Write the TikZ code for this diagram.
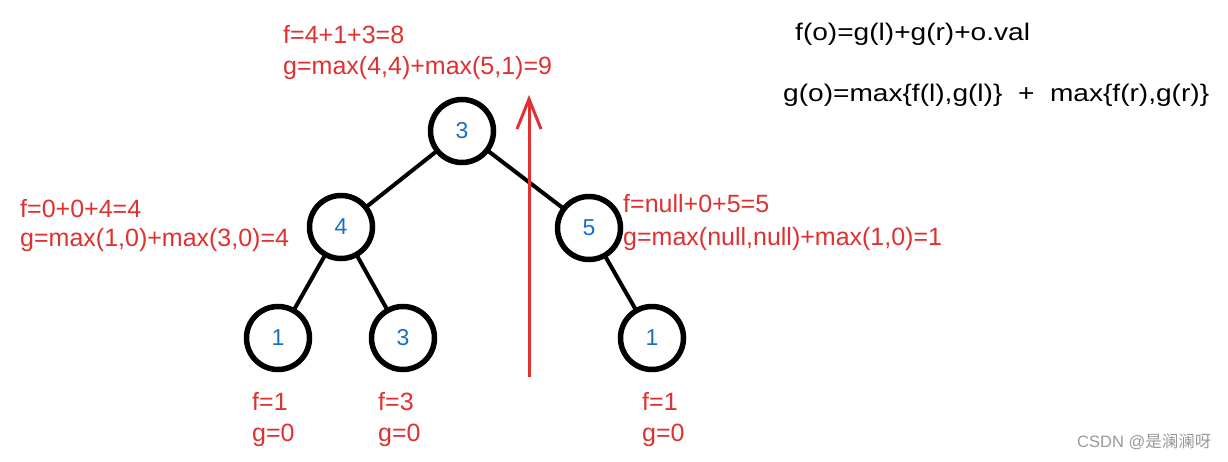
\documentclass[tikz,border=0pt]{standalone}
\usepackage{fontspec}
\setmainfont{Liberation Sans}
\newfontfamily\widefont[FakeStretch=1.17]{Liberation Sans}
\newfontfamily\cjkfont{Noto Sans CJK SC}
\usetikzlibrary{arrows.meta}
\definecolor{exred}{HTML}{E03131}
\definecolor{exblue}{HTML}{1971C2}
\definecolor{wmgray}{HTML}{9A9A9A}
\tikzset{
  treenode/.style={circle, draw=black, line width=5.5pt, minimum size=63pt, inner sep=0pt,
    text=exblue, font=\fontsize{23}{23}\selectfont},
  treeedge/.style={draw=black, line width=4pt, line cap=round},
  redlabel/.style={anchor=base west, text=exred, inner sep=0pt, font=\fontsize{25}{25}\selectfont},
  blacklabel/.style={anchor=base west, text=black, inner sep=0pt, font=\widefont\fontsize{24}{24}\selectfont},
  cutarrow/.style={draw=exred, line width=3pt, -{Straight Barb[length=30pt,width=24pt,line width=3pt]}},
}
\begin{document}
\begin{tikzpicture}[x=1pt,y=-1pt]
\useasboundingbox[fill=white] (0,0) rectangle (1228,461);
% tree nodes
\node[treenode] (r) at (462,131) {3};
\node[treenode] (a) at (341,227) {4};
\node[treenode] (b) at (589,228) {5};
\node[treenode] (c) at (278,338) {1};
\node[treenode] (d) at (403,338) {3};
\node[treenode] (e) at (652,338) {1};
% edges
\draw[treeedge] (r) -- (a);
\draw[treeedge] (r) -- (b);
\draw[treeedge] (a) -- (c);
\draw[treeedge] (a) -- (d);
\draw[treeedge] (b) -- (e);
% red arrow
\coordinate (abot) at (529,377);
\coordinate (atop) at (529,95);
\draw[cutarrow] (abot) -- (atop);
% red labels
\node[redlabel] (t1) at (283,43) {f=4+1+3=8};
\node[redlabel] (t2) at (283,74) {g=max(4,4)+max(5,1)=9};
\node[redlabel] (l1) at (20,217) {f=0+0+4=4};
\node[redlabel] (l2) at (20,246) {g=max(1,0)+max(3,0)=4};
\node[redlabel] (m1) at (623,212) {f=null+0+5=5};
\node[redlabel] (m2) at (623,245) {g=max(null,null)+max(1,0)=1};
\node[redlabel] (c1) at (252,410) {f=1};
\node[redlabel] (c2) at (252,441) {g=0};
\node[redlabel] (d1) at (378,410) {f=3};
\node[redlabel] (d2) at (378,441) {g=0};
\node[redlabel] (e1) at (642,410) {f=1};
\node[redlabel] (e2) at (642,441) {g=0};
% black formulas
\node[blacklabel] (f1) at (795,40) {f(o)=g(l)+g(r)+o.val};
\node[blacklabel] (f2) at (783,101) {g(o)=max\{f(l),g(l)\}\ \ +\ \ max\{f(r),g(r)\}};
% watermark
\node[anchor=base west, inner sep=0pt, text=wmgray, font=\fontsize{16.5}{16.5}\selectfont] (wm) at (1077,447) {CSDN @{\cjkfont 是澜澜呀}};
\end{tikzpicture}
\end{document}
